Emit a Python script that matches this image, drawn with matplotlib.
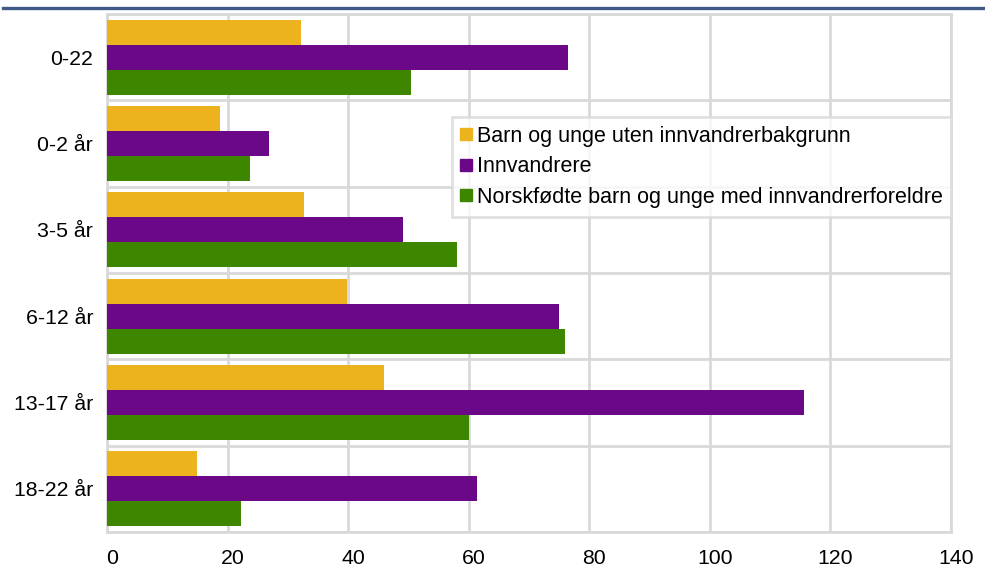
import matplotlib
matplotlib.use("Agg")
import matplotlib.pyplot as plt
import matplotlib.transforms as mtransforms
import numpy as np
from matplotlib.lines import Line2D

plt.rcParams['font.family'] = ['Liberation Sans', 'DejaVu Sans']

categories = ["0-22", "0-2 år", "3-5 år", "6-12 år", "13-17 år", "18-22 år"]
series_names = ["Barn og unge uten innvandrerbakgrunn", "Innvandrere",
                "Norskfødte barn og unge med innvandrerforeldre"]
uten = [32.1, 18.7, 32.7, 39.8, 46.0, 14.9]
innv = [76.4, 26.9, 49.1, 75.0, 115.6, 61.4]
norsk = [50.5, 23.8, 58.0, 76.0, 60.0, 22.3]
colors = ["#EDB31F", "#6A0888", "#3E8500"]
xticks = [0, 20, 40, 60, 80, 100, 120, 140]

fig = plt.figure(figsize=(9.85, 5.78), dpi=100)
ax = fig.add_axes([107/985, 1-532/578, (951-107)/985, (532-14)/578])

n = len(categories)
y = np.arange(n)
h = 0.29
for i, (vals, c, name) in enumerate(zip([uten, innv, norsk], colors, series_names)):
    ax.barh(y + (i - 1) * h, vals, height=h, color=c, label=name, zorder=3)

ax.set_ylim(n - 0.5, -0.5)
ax.set_xlim(0, 140)
ax.set_yticks(y)
ax.set_yticklabels(categories, fontsize=15.3)
ax.set_yticks(np.arange(-0.5, n, 1), minor=True)
ax.set_xticks(xticks)
ax.set_xticklabels([str(t) for t in xticks], fontsize=15.3)
ax.tick_params(axis='both', which='both', length=0)
ax.tick_params(axis='y', pad=10)
ax.tick_params(axis='x', pad=12)
offset = mtransforms.ScaledTranslation(5/100, 0, fig.dpi_scale_trans)
for lab in ax.get_xticklabels():
    lab.set_transform(lab.get_transform() + offset)
ax.grid(axis='x', which='major', color='#D9D9D9', linewidth=2, zorder=0)
ax.grid(axis='y', which='minor', color='#D9D9D9', linewidth=2, zorder=0)
for s in ax.spines.values():
    s.set_color('#D9D9D9')
    s.set_linewidth(2)

handles = [Line2D([0], [0], marker='s', linestyle='none', markersize=8,
                  markerfacecolor=c, markeredgecolor=c) for c in colors]
leg = fig.legend(handles, series_names, loc='upper left',
                 bbox_to_anchor=(452/985, 1-117/578), fontsize=15.5,
                 frameon=True, fancybox=False, handlelength=0.5,
                 handletextpad=0.25, borderpad=0.4, labelspacing=0.45,
                 borderaxespad=0)
leg.get_frame().set_edgecolor('#D9D9D9')
leg.get_frame().set_linewidth(2)

fig.add_artist(Line2D([3/985, 1], [1-8/578, 1-8/578], color='#3F5A86',
                      linewidth=2.4, transform=fig.transFigure))

fig.savefig("out.png", dpi=100)
